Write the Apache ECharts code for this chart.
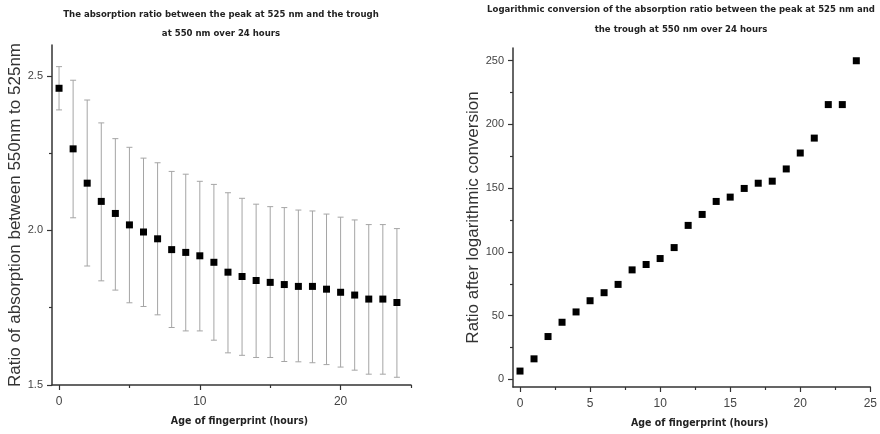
<!DOCTYPE html>
<html><head><meta charset="utf-8">
<script src="https://cdn.jsdelivr.net/npm/echarts@6/dist/echarts.min.js"></script>
<style>html,body{margin:0;padding:0;background:#fff}#c{width:880px;height:434px}</style>
</head><body><div id="c"></div>
<script>
// ---- data ----
const hours = [0,1,2,3,4,5,6,7,8,9,10,11,12,13,14,15,16,17,18,19,20,21,22,23,24];
const ratioMean  = [2.46,2.264,2.153,2.094,2.055,2.018,1.995,1.973,1.938,1.929,1.918,1.897,1.865,1.851,1.838,1.832,1.825,1.819,1.819,1.810,1.800,1.791,1.778,1.778,1.767];
const ratioLower = [2.39,2.041,1.885,1.837,1.807,1.766,1.754,1.727,1.686,1.675,1.675,1.645,1.604,1.596,1.589,1.589,1.576,1.575,1.572,1.566,1.558,1.548,1.535,1.535,1.525];
const ratioUpper = [2.53,2.486,2.422,2.348,2.297,2.269,2.234,2.219,2.191,2.182,2.159,2.149,2.122,2.104,2.085,2.077,2.074,2.066,2.063,2.053,2.043,2.034,2.019,2.019,2.006];
const logRatio   = [6.5,16.1,33.6,44.8,52.9,61.7,68.0,74.5,85.9,90.1,94.8,103.4,120.8,129.4,139.6,143.0,149.8,153.9,155.5,165.1,177.6,189.3,215.6,215.6,250];

const leftXTicks  = [0,10,20];
const leftXMinor  = [5,15,25];
const leftYTicks  = [1.5,2.0,2.5];
const leftYMinor  = [1.75,2.25];
const rightXTicks = [0,5,10,15,20,25];
const rightXMinor = [2.5,7.5,12.5,17.5,22.5];
const rightYTicks = [0,50,100,150,200,250];
const rightYMinor = [25,75,125,175,225];

const leftTitle  = ['The absorption ratio between the peak at 525 nm and the trough', 'at 550 nm over 24 hours'];
const rightTitle = ['Logarithmic conversion of the absorption ratio between the peak at 525 nm and', 'the trough at 550 nm over 24 hours'];
const xName = 'Age of fingerprint (hours)';
const leftYName = 'Ratio of absorption between 550nm to 525nm';
const rightYName = 'Ratio after logarithmic conversion';

// ---- styles ----
const condensed = "'Liberation Sans Narrow','DejaVu Sans Condensed',sans-serif";
const sans = "'Liberation Sans',Arial,sans-serif";
const axisCol = '#333';
const xLabelStyle = {color:'#444', fontSize:12, fontFamily:sans, margin:11};
const yLabelStyle = {color:'#444', fontSize:11, fontFamily:sans, margin:9};

function majorX(grid, min, max, ticks, fmt, name) {
  return {
    type:'value', gridIndex:grid, position:'bottom', min:min, max:max,
    splitLine:{show:false},
    axisLine:{show:true, onZero:false, lineStyle:{color:axisCol, width:1.5}},
    axisTick:{show:true, inside:false, length:5, customValues:ticks, lineStyle:{color:axisCol, width:1.2}},
    axisLabel:Object.assign({customValues:ticks, formatter:fmt}, xLabelStyle),
    name:name, nameLocation:'middle', nameGap:31,
    nameTextStyle:{fontFamily:condensed, fontWeight:'bold', fontSize:10.5, color:'#222', padding:[0,0,0,16]}
  };
}
function minorX(grid, min, max, ticks) {
  return {
    type:'value', gridIndex:grid, position:'bottom', min:min, max:max,
    splitLine:{show:false},
    axisLine:{show:false, onZero:false},
    axisTick:{show:true, inside:false, length:3, customValues:ticks, lineStyle:{color:axisCol, width:1.2}},
    axisLabel:{show:false}
  };
}
function majorY(grid, min, max, ticks, fmt, name, gap) {
  return {
    type:'value', gridIndex:grid, position:'left', min:min, max:max,
    splitLine:{show:false},
    axisLine:{show:true, onZero:false, lineStyle:{color:axisCol, width:1.5}},
    axisTick:{show:true, inside:false, length:5, customValues:ticks, lineStyle:{color:axisCol, width:1.2}},
    axisLabel:Object.assign({customValues:ticks, formatter:fmt}, yLabelStyle),
    name:name, nameLocation:'middle', nameGap:gap,
    nameTextStyle:{fontFamily:sans, fontSize:17, color:'#333'}
  };
}
function minorY(grid, min, max, ticks) {
  return {
    type:'value', gridIndex:grid, position:'left', min:min, max:max,
    splitLine:{show:false},
    axisLine:{show:false, onZero:false},
    axisTick:{show:true, inside:false, length:3, customValues:ticks, lineStyle:{color:axisCol, width:1.2}},
    axisLabel:{show:false}
  };
}

function titleText(lines, cx, y0, lh) {
  return lines.map((t, i) => ({
    type:'text', x:cx, y:y0 + i*lh,
    style:{text:t, align:'center', verticalAlign:'middle', fill:'#222',
           font:"bold 9.5px " + condensed}
  }));
}

const chart = echarts.init(document.getElementById('c'), null, {renderer:'canvas'});
chart.setOption({
  animation:false,
  backgroundColor:'#fff',
  graphic: titleText(leftTitle, 221, 15, 19).concat(titleText(rightTitle, 681, 10, 20)),
  grid:[
    {left:52, right:469, top:45, bottom:49, containLabel:false},
    {left:513, right:9, top:48, bottom:45, containLabel:false}
  ],
  xAxis:[
    majorX(0, -0.5, 25, leftXTicks, v => String(v), xName),
    minorX(0, -0.5, 25, leftXMinor),
    majorX(1, -0.5, 25, rightXTicks, v => String(v), xName),
    minorX(1, -0.5, 25, rightXMinor)
  ],
  yAxis:[
    majorY(0, 1.5, 2.6, leftYTicks, v => v.toFixed(1), leftYName, 28),
    minorY(0, 1.5, 2.6, leftYMinor),
    majorY(1, -6, 260, rightYTicks, v => String(v), rightYName, 31),
    minorY(1, -6, 260, rightYMinor)
  ],
  series:[
    {
      type:'custom', xAxisIndex:0, yAxisIndex:0,
      data: hours.map((h, i) => [h, ratioLower[i], ratioUpper[i]]),
      encode:{x:0, y:[1,2]},
      renderItem(params, api) {
        const x = api.value(0);
        const lo = api.coord([x, api.value(1)]);
        const hi = api.coord([x, api.value(2)]);
        const w = 3;
        const st = {stroke:'#a5a5a5', lineWidth:1};
        return {type:'group', children:[
          {type:'line', shape:{x1:hi[0], y1:hi[1], x2:lo[0], y2:lo[1]}, style:st},
          {type:'line', shape:{x1:hi[0]-w, y1:hi[1], x2:hi[0]+w, y2:hi[1]}, style:st},
          {type:'line', shape:{x1:lo[0]-w, y1:lo[1], x2:lo[0]+w, y2:lo[1]}, style:st}
        ]};
      },
      z:1
    },
    {
      type:'scatter', xAxisIndex:0, yAxisIndex:0,
      data: hours.map((h, i) => [h, ratioMean[i]]),
      symbol:'rect', symbolSize:7, itemStyle:{color:'#000', opacity:1}, z:3
    },
    {
      type:'scatter', xAxisIndex:2, yAxisIndex:2,
      data: hours.map((h, i) => [h, logRatio[i]]),
      symbol:'rect', symbolSize:7, itemStyle:{color:'#000', opacity:1}, z:3
    }
  ]
});
</script>
</body></html>
